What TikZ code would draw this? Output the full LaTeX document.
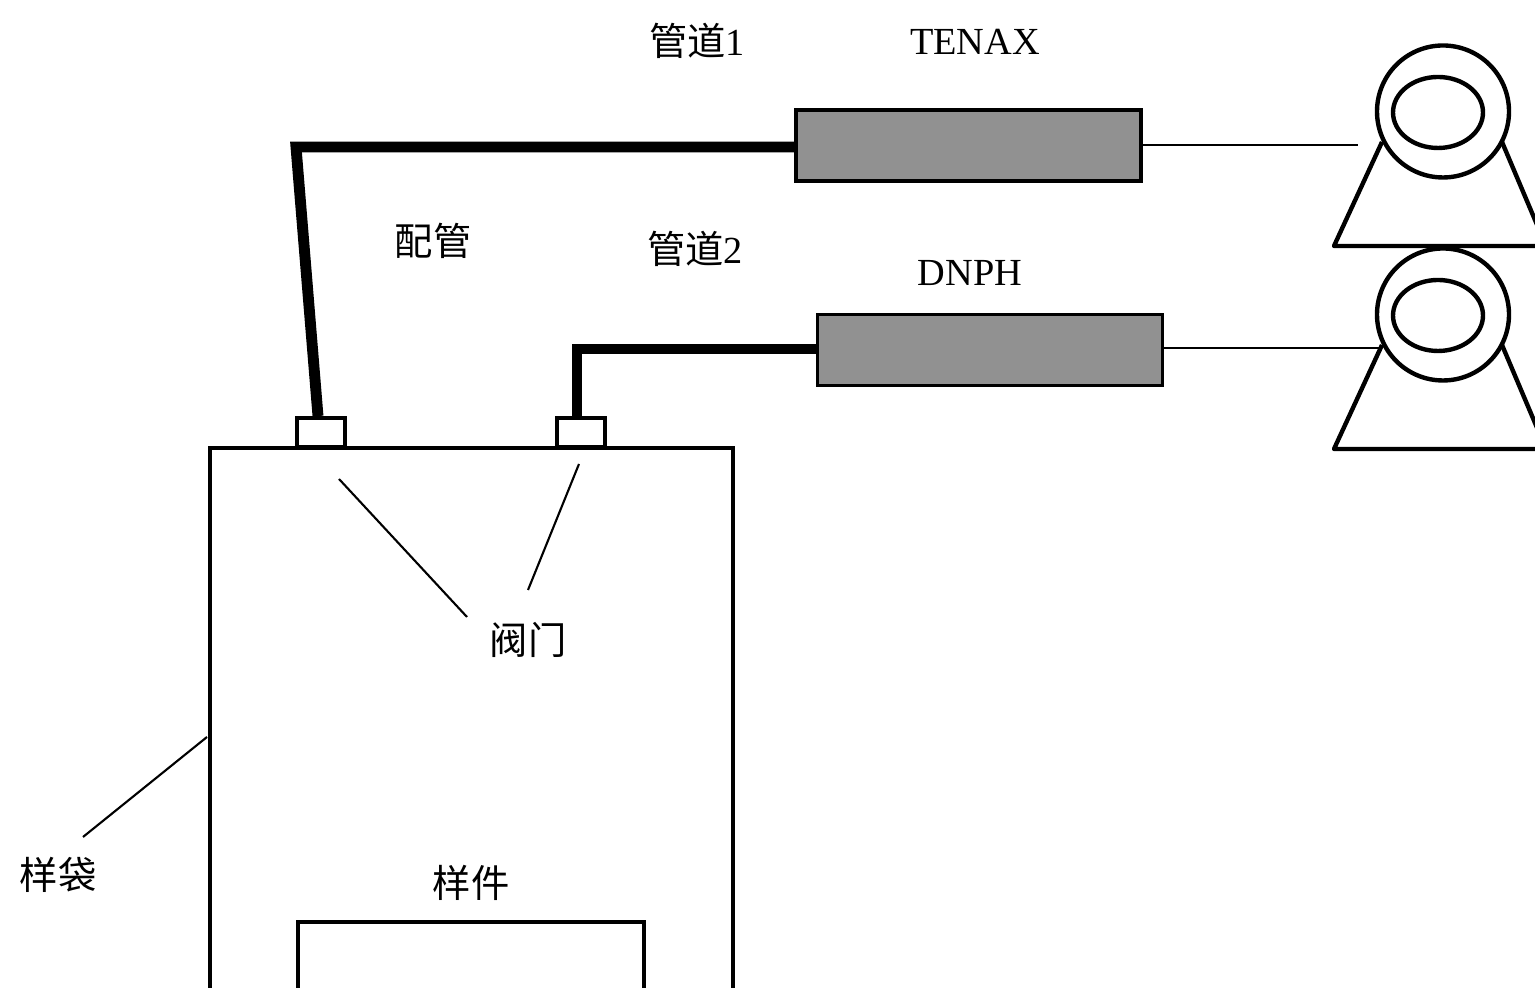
\documentclass[tikz,border=0pt]{standalone}
\usepackage{fontspec}
\setmainfont{Liberation Serif}
\newfontfamily\cjk{Noto Sans CJK SC}
\usetikzlibrary{positioning,calc,shapes.geometric}
\tikzset{
    label/.style={inner sep=0pt,font=\fontsize{10.9}{12}\selectfont},
    tube/.style={draw,line width=1.1pt,fill=black!43,minimum width=3.45cm,minimum height=0.71cm,inner sep=0pt},
    valve/.style={draw,line width=1.1pt,fill=white,minimum width=0.48cm,minimum height=0.29cm,inner sep=0pt},
    pipe/.style={line width=3.1pt,miter limit=10},
    leader/.style={line width=0.6pt},
    outline/.style={line width=1.1pt}
}
\begin{document}
\begin{tikzpicture}
    \useasboundingbox (0,0) rectangle (15.35,9.88);
    \clip (0,0) rectangle (15.35,9.88);

    % Sample bag and sample
    \draw[outline] (2.10,-0.2) |- (7.33,5.40) -- (7.33,-0.2);
    \draw[outline] (2.98,-0.2) |- (6.44,0.66) -- (6.44,-0.2);
    \coordinate (bagside) at (2.07,2.51);

    % Valves
    \node[valve] (valveA) at (3.21,5.555) {};
    \node[valve] (valveB) at (5.81,5.555) {};

    % Tubes
    \node[tube] (tenax) at (9.685,8.425) {};
    \node[tube] (dnph) at (9.90,6.38) {};

    % Pipes
    \coordinate (bendA) at (2.96,8.41);
    \coordinate (bendB) at (5.77,6.39);
    \draw[pipe] (tenax.west |- bendA) -- (bendA) -- ($(valveA.north)+(-0.03,0)$);
    \draw[pipe] (dnph.west |- bendB) -- (bendB) -- (bendB |- valveB.north);

    % Pumps
    \foreach \name/\y in {pumpA/0,pumpB/-2.03} {
        \begin{scope}[yshift=\y cm]
            \draw[line width=1.25pt,line join=round] (13.82,8.46) -- (13.34,7.42) -- (15.6,7.42) (15.02,8.46) -- (15.46,7.42);
            \node[circle,draw,line width=1.25pt,fill=white,minimum size=1.32cm,inner sep=0pt] (\name) at (14.43,8.765) {};
            \node[ellipse,draw,line width=1.25pt,minimum width=0.90cm,minimum height=0.71cm,inner sep=0pt] (\name in) at (14.38,8.755) {};
        \end{scope}
    }

    % Sampling lines
    \coordinate (endA) at (13.58,8.43);
    \coordinate (endB) at (13.82,6.40);
    \draw[leader] (tenax.east |- endA) -- (endA);
    \draw[leader] (dnph.east |- endB) -- (endB);

    % Labels
    \node[label] (pipeone) at (6.97,9.47) {{\cjk 管道}1};
    \node[label] (tenaxtext) at (9.75,9.46) {TENAX};
    \node[label] (peiguan) at (4.33,7.47) {\cjk 配管};
    \node[label] (pipetwo) at (6.95,7.39) {{\cjk 管道}2};
    \node[label] (dnphtext) at (9.70,7.15) {DNPH};
    \node[label] (valvetext) at (5.28,3.48) {\cjk 阀门};
    \node[label] (bagtext) at (0.58,1.13) {\cjk 样袋};
    \node[label] (sampletext) at (4.71,1.05) {\cjk 样件};

    % Leader lines
    \coordinate (tipA) at (3.39,5.09);
    \coordinate (tipB) at (5.79,5.24);
    \coordinate (tailA) at (4.67,3.71);
    \coordinate (tailB) at (5.28,3.98);
    \coordinate (tailC) at (0.83,1.51);
    \draw[leader] (tipA) -- (tailA);
    \draw[leader] (tipB) -- (tailB);
    \draw[leader] (bagside) -- (tailC);
\end{tikzpicture}
\end{document}
